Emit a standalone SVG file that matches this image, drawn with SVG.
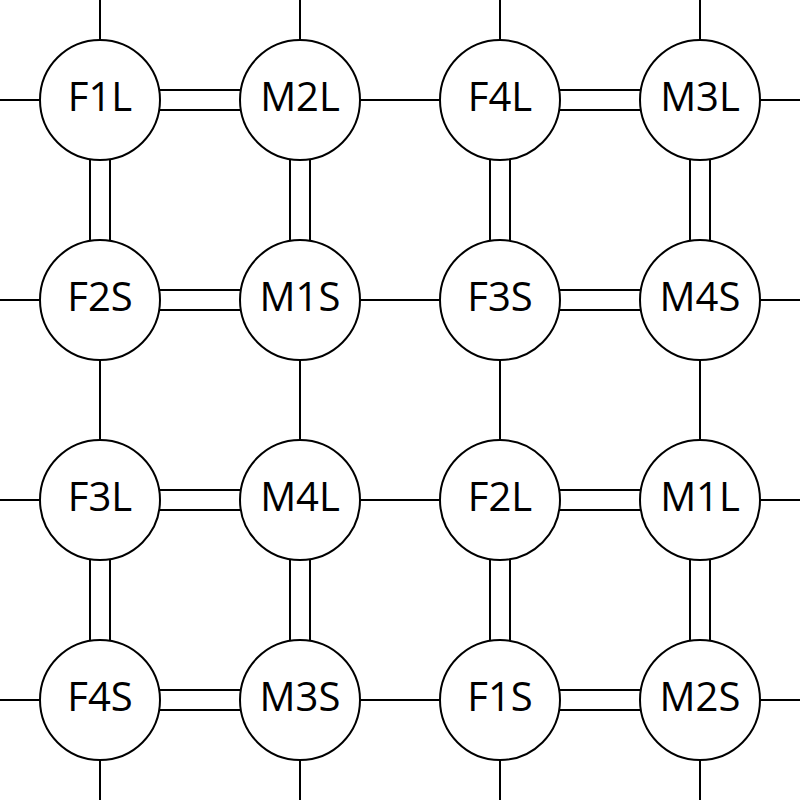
<svg xmlns="http://www.w3.org/2000/svg" width="800" height="800" viewBox="0 0 800 800">
<style>
.l{stroke:#000;stroke-width:2;fill:none}
.n circle{fill:#fff;stroke:#000;stroke-width:2}
.n text{font-family:"Open Sans","Noto Sans",sans-serif;font-size:40px;text-anchor:middle;fill:#000}
</style>
<rect width="800" height="800" fill="#fff"/>
<g id="connectors" class="l">
<path d="M0 100H40M0 300H40M0 500H40M0 700H40M760 100H800M760 300H800M760 500H800M760 700H800"/>
<path d="M100 0V40M300 0V40M500 0V40M700 0V40M100 760V800M300 760V800M500 760V800M700 760V800"/>
<path d="M360 100H440M360 300H440M360 500H440M360 700H440"/>
<path d="M100 360V440M300 360V440M500 360V440M700 360V440"/>
<path d="M159.16 90H240.84M159.16 110H240.84M559.16 90H640.84M559.16 110H640.84
M159.16 290H240.84M159.16 310H240.84M559.16 290H640.84M559.16 310H640.84
M159.16 490H240.84M159.16 510H240.84M559.16 490H640.84M559.16 510H640.84
M159.16 690H240.84M159.16 710H240.84M559.16 690H640.84M559.16 710H640.84"/>
<path d="M90 159.16V240.84M110 159.16V240.84M290 159.16V240.84M310 159.16V240.84M490 159.16V240.84M510 159.16V240.84M690 159.16V240.84M710 159.16V240.84
M90 559.16V640.84M110 559.16V640.84M290 559.16V640.84M310 559.16V640.84M490 559.16V640.84M510 559.16V640.84M690 559.16V640.84M710 559.16V640.84"/>
</g>
<g id="F1L" class="n"><circle cx="100" cy="100" r="60"/><text x="100" y="111">F1L</text></g>
<g id="M2L" class="n"><circle cx="300" cy="100" r="60"/><text x="300" y="111">M2L</text></g>
<g id="F4L" class="n"><circle cx="500" cy="100" r="60"/><text x="500" y="111">F4L</text></g>
<g id="M3L" class="n"><circle cx="700" cy="100" r="60"/><text x="700" y="111">M3L</text></g>
<g id="F2S" class="n"><circle cx="100" cy="300" r="60"/><text x="100" y="311">F2S</text></g>
<g id="M1S" class="n"><circle cx="300" cy="300" r="60"/><text x="300" y="311">M1S</text></g>
<g id="F3S" class="n"><circle cx="500" cy="300" r="60"/><text x="500" y="311">F3S</text></g>
<g id="M4S" class="n"><circle cx="700" cy="300" r="60"/><text x="700" y="311">M4S</text></g>
<g id="F3L" class="n"><circle cx="100" cy="500" r="60"/><text x="100" y="511">F3L</text></g>
<g id="M4L" class="n"><circle cx="300" cy="500" r="60"/><text x="300" y="511">M4L</text></g>
<g id="F2L" class="n"><circle cx="500" cy="500" r="60"/><text x="500" y="511">F2L</text></g>
<g id="M1L" class="n"><circle cx="700" cy="500" r="60"/><text x="700" y="511">M1L</text></g>
<g id="F4S" class="n"><circle cx="100" cy="700" r="60"/><text x="100" y="711">F4S</text></g>
<g id="M3S" class="n"><circle cx="300" cy="700" r="60"/><text x="300" y="711">M3S</text></g>
<g id="F1S" class="n"><circle cx="500" cy="700" r="60"/><text x="500" y="711">F1S</text></g>
<g id="M2S" class="n"><circle cx="700" cy="700" r="60"/><text x="700" y="711">M2S</text></g>
</svg>
